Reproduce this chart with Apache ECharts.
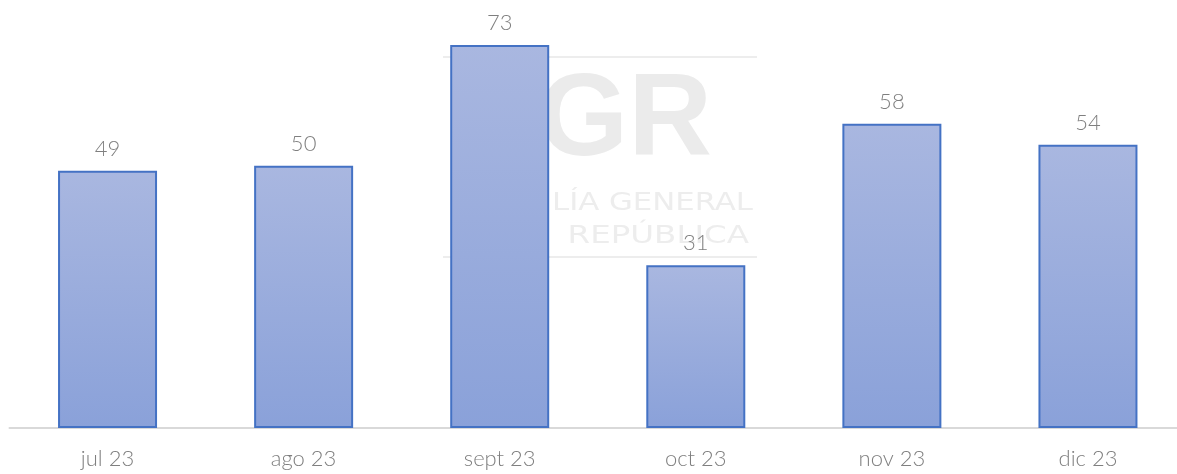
<!DOCTYPE html>
<html>
<head>
<meta charset="utf-8">
<script src="https://cdn.jsdelivr.net/npm/echarts@6/dist/echarts.min.js"></script>
<style>
  html, body { margin: 0; padding: 0; background: #ffffff; overflow: hidden; }
  /* canvas runs slightly past the right edge so the last column is clipped like the axis line */
  #chart { width: 1187px; height: 474px; }
</style>
</head>
<body>
<div id="chart"></div>
<script>
// Monthly totals, second half of 2023
const months = ['jul 23', 'ago 23', 'sept 23', 'oct 23', 'nov 23', 'dic 23'];
const totals = [49, 50, 73, 31, 58, 54];

const labelFont = 'Lato, "Open Sans", sans-serif';
const wmColor = '#ededed';

const chart = echarts.init(document.getElementById('chart'), null, { renderer: 'canvas' });

chart.setOption({
  animation: false,
  backgroundColor: '#ffffff',
  grid: { left: 9.5, right: 1, top: 8.2, height: 419.8, containLabel: false },
  // faint institutional watermark behind the bars (left part hidden by the tallest column)
  graphic: [
    { type: 'line', z: 0, shape: { x1: 443, y1: 57, x2: 757, y2: 57 }, style: { stroke: wmColor, lineWidth: 2 } },
    { type: 'line', z: 0, shape: { x1: 443, y1: 257, x2: 757, y2: 257 }, style: { stroke: wmColor, lineWidth: 2 } },
    { type: 'text', z: 0, x: 712, y: 181,
      style: { text: 'CGR', fill: '#ebebeb', font: 'bold 116px "Liberation Sans", Arial, sans-serif', textAlign: 'right', textVerticalAlign: 'bottom' } },
    { type: 'text', z: 0, x: 753, y: 216, scaleX: 1.23,
      style: { text: 'LÍA GENERAL', fill: wmColor, font: '25px "DejaVu Sans", sans-serif', textAlign: 'right', textVerticalAlign: 'bottom' } },
    { type: 'text', z: 0, x: 749, y: 249, scaleX: 1.3,
      style: { text: 'REPÚBLICA', fill: wmColor, font: '25px "DejaVu Sans", sans-serif', textAlign: 'right', textVerticalAlign: 'bottom' } }
  ],
  xAxis: {
    type: 'category',
    data: months,
    axisLine: { show: true, lineStyle: { color: '#d9d9d9', width: 2 } },
    axisTick: { show: false },
    axisLabel: { color: '#7f7f7f', fontSize: 22, fontFamily: labelFont, fontWeight: 300, margin: 20 }
  },
  yAxis: {
    type: 'value',
    min: 0,
    max: 80,
    show: false,
    splitLine: { show: false }
  },
  series: [{
    type: 'bar',
    data: totals,
    barWidth: 99,
    z: 2,
    itemStyle: {
      color: new echarts.graphic.LinearGradient(0, 0, 0, 1, [
        { offset: 0, color: '#a9b7e0' },
        { offset: 1, color: '#8aa1d9' }
      ]),
      borderColor: '#4472c4',
      borderWidth: 2
    },
    label: {
      show: true,
      position: 'top',
      distance: 11,
      color: '#7f7f7f',
      fontSize: 22,
      fontFamily: labelFont,
      fontWeight: 300
    }
  }]
});
</script>
</body>
</html>
